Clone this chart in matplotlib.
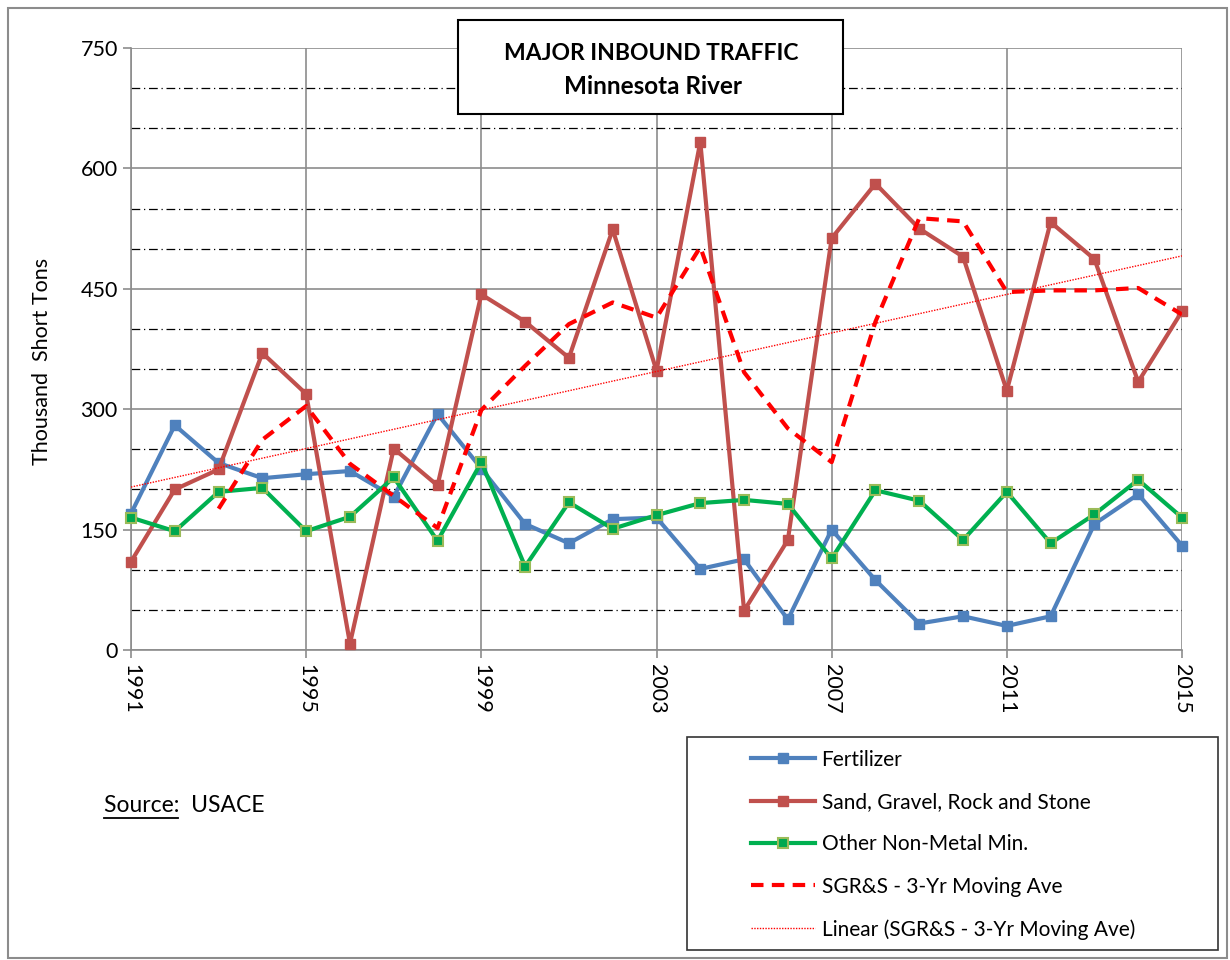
import matplotlib
matplotlib.use("Agg")
import matplotlib.pyplot as plt
from matplotlib.patches import Rectangle
from matplotlib.ticker import MultipleLocator

plt.rcParams['font.family'] = ['Lato', 'DejaVu Sans']

# data (thousand short tons)
years = list(range(1991, 2016))
fertilizer = [170, 280, 233, 214, 219, 223, 191, 294, 226, 157, 133, 163, 165,
              101, 113, 38, 150, 87, 33, 42, 30, 42, 157, 194, 130]
sand_gravel = [110, 200, 225, 370, 319, 8, 251, 205, 443, 409, 364, 524, 348,
               633, 49, 137, 513, 581, 525, 490, 323, 533, 487, 334, 422]
other_nonmetal = [165, 148, 197, 202, 148, 166, 215, 136, 234, 104, 184, 151, 168,
                  183, 187, 182, 114, 199, 186, 137, 197, 133, 169, 212, 165]
ma_years = list(range(1993, 2016))
sgrs_moving_avg = [176, 262, 304, 232, 192, 152, 299, 354, 406, 433, 414, 502,
                   346, 276, 234, 409, 538, 534, 446, 448, 448, 451, 418]
trend_years = [1991, 2015]
trend_values = [203, 491]

labels = ['Fertilizer', 'Sand, Gravel, Rock and Stone', 'Other Non-Metal Min.',
          'SGR&S - 3-Yr Moving Ave', 'Linear (SGR&S - 3-Yr Moving Ave)']

W, H = 1230, 960
fig = plt.figure(figsize=(W / 100, H / 100), dpi=100)
ax = fig.add_axes([131 / W, 1 - 650 / H, (1182 - 131) / W, (650 - 48) / H])

# outer chart border
fig.patches.append(Rectangle((8 / W, 2 / H), (1227 - 8) / W, (952 - 2) / H,
                             transform=fig.transFigure, fill=False,
                             edgecolor='#8c8c8c', lw=1.5))

l1, = ax.plot(years, fertilizer, color='#4F81BD', lw=3, marker='s', ms=7.5,
              clip_on=False, zorder=3)
l2, = ax.plot(years, sand_gravel, color='#C0504D', lw=3, marker='s', ms=7.5,
              clip_on=False, zorder=4)
l3, = ax.plot(years, other_nonmetal, color='#00B050', lw=3, marker='s', ms=7.5,
              markerfacecolor='#00A84F', markeredgecolor='#9BBB59', mew=1.5,
              clip_on=False, zorder=5)
l4, = ax.plot(ma_years, sgrs_moving_avg, color='#FF0000', lw=3,
              linestyle=(0, (3, 2)), zorder=6)
l5, = ax.plot(trend_years, trend_values, color='#FF0000', lw=1,
              linestyle=(0, (1, 1)), zorder=6)

ax.set_xlim(1991, 2015)
ax.set_ylim(0, 750)
ax.set_xticks(range(1991, 2016, 4))
ax.set_yticks(range(0, 751, 150))
ax.yaxis.set_minor_locator(MultipleLocator(50))
ax.grid(True, which='major', color='#8c8c8c', lw=1.2)
ax.grid(True, which='minor', axis='y', color='black', lw=0.9,
        linestyle=(0, (7, 3, 1, 3)))
ax.set_axisbelow(True)
ax.tick_params(axis='y', which='minor', length=0)
ax.tick_params(axis='both', which='major', labelsize=15.5, color='#8c8c8c',
               length=6, width=1.2)
ax.tick_params(axis='x', labelrotation=-90, pad=4)
for s in ax.spines.values():
    s.set_color('#8c8c8c')
    s.set_linewidth(1.2)
ax.spines['top'].set_visible(False)
ax.spines['right'].set_visible(False)

fig.text(42 / W, 1 - 361 / H, 'Thousand  Short Tons', rotation=90,
         ha='center', va='center', fontsize=15.5)

# title box
fig.patches.append(Rectangle((458 / W, 1 - 114 / H), (843 - 458) / W, (114 - 20) / H,
                             transform=fig.transFigure, facecolor='white',
                             edgecolor='black', lw=1.5, zorder=10))
fig.text(651 / W, 1 - 53 / H, 'MAJOR INBOUND TRAFFIC', ha='center', va='center',
         fontsize=16.5, fontweight='bold', zorder=11)
fig.text(653 / W, 1 - 86 / H, 'Minnesota River', ha='center', va='center',
         fontsize=17.5, fontweight='bold', zorder=11)

# source note
fig.text(104 / W, 1 - 806 / H, 'Source:  USACE', ha='left', va='center', fontsize=16.5)
fig.lines.append(plt.Line2D([104 / W, 178 / W], [1 - 818 / H, 1 - 818 / H],
                            transform=fig.transFigure, color='black', lw=1.3))

# legend
fig.patches.append(Rectangle((687 / W, 1 - 950 / H), (1218 - 687) / W, (950 - 737) / H,
                             transform=fig.transFigure, fill=False,
                             edgecolor='#333333', lw=1.2))
fig.legend([l1, l2, l3, l4, l5], labels, loc='upper left',
           bbox_to_anchor=(732 / W, 1 - 731 / H), frameon=False, fontsize=15,
           handlelength=3.1, handletextpad=0.3, labelspacing=1.07, numpoints=1)

fig.savefig('out.png', dpi=100)
